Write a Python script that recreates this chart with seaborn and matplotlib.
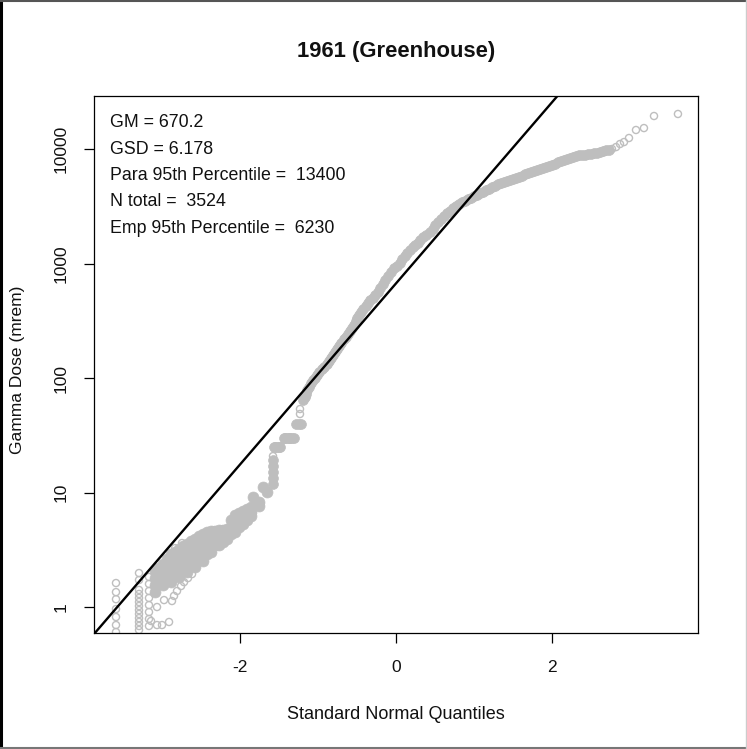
import numpy as np
import pandas as pd
import matplotlib
matplotlib.use("Agg")
import matplotlib.pyplot as plt
from matplotlib.lines import Line2D
import seaborn as sns

# ---------------- data ----------------
title = "1961 (Greenhouse)"
x_label = "Standard Normal Quantiles"
y_label = "Gamma Dose (mrem)"
GM = 670.2
GSD = 6.178
para_95 = 13400
n_total = 3524
emp_95 = 6230

x_ticks = [-2, 0, 2]
y_ticks = [1, 10, 100, 1000, 10000]
y_ticklabels = ["1", "10", "100", "1000", "10000"]

# lower-left wedge of the QQ curve (heavily overlapping points)
wedge_q = [
    -3.090, -3.090, -3.090, -3.090,
    -3.039, -3.039, -3.039,
    -2.987, -2.987, -2.987, -2.987,
    -2.936, -2.936, -2.936, -2.936,
    -2.885, -2.885, -2.885, -2.885, -2.885,
    -2.833, -2.833, -2.833, -2.833,
    -2.782, -2.782, -2.782, -2.782, -2.782,
    -2.731, -2.731, -2.731, -2.731,
    -2.679, -2.679, -2.679, -2.679, -2.679,
    -2.628, -2.628, -2.628, -2.628,
    -2.577, -2.577, -2.577, -2.577, -2.577,
    -2.526, -2.526, -2.526, -2.526,
    -2.474, -2.474, -2.474, -2.474, -2.474,
    -2.423, -2.423, -2.423, -2.423,
    -2.372, -2.372, -2.372, -2.372,
    -2.321, -2.321, -2.321,
    -2.269, -2.269, -2.269,
    -2.218, -2.218, -2.218,
    -2.167, -2.167, -2.167,
    -2.115, -2.115, -2.115,
    -2.064, -2.064, -2.064, -2.064,
    -2.013, -2.013, -2.013,
    -1.962, -1.962, -1.962,
    -1.910, -1.910, -1.910,
    -1.859, -1.859, -1.859,
    -1.833, -1.756, -1.756, -1.705, -1.654,
]
wedge_dose = [
    2.06, 1.79, 1.56, 1.35,
    2.20, 1.92, 1.67,
    2.37, 2.06, 1.79, 1.56,
    2.65, 2.30, 2.00, 1.73,
    2.90, 2.52, 2.19, 1.90, 1.65,
    3.05, 2.65, 2.30, 2.00,
    3.21, 2.79, 2.42, 2.10, 1.83,
    3.38, 2.93, 2.55, 2.22,
    3.55, 3.08, 2.68, 2.33, 2.02,
    3.74, 3.25, 2.82, 2.45,
    3.93, 3.41, 2.96, 2.57, 2.24,
    4.13, 3.58, 3.11, 2.70,
    4.34, 3.77, 3.28, 2.85, 2.52,
    4.48, 3.88, 3.38, 2.93,
    4.61, 4.01, 3.48, 3.02,
    4.65, 4.05, 3.50,
    4.70, 4.09, 3.48,
    4.75, 4.15, 3.70,
    4.80, 4.25, 3.93,
    5.80, 5.00, 4.30,
    6.36, 5.53, 4.90, 4.52,
    6.60, 5.75, 5.00,
    6.89, 5.99, 5.31,
    7.15, 6.40, 5.80,
    7.47, 6.76, 6.23,
    9.14, 8.26, 7.62, 11.2, 10.1,
]

# tied values and the main body of the curve
band_q = [
    -1.577, -1.577, -1.577, -1.577, -1.577,
    -1.564, -1.545, -1.526, -1.506, -1.487,
    -1.436, -1.417, -1.397, -1.378, -1.359, -1.333, -1.308,
    -1.282, -1.250, -1.218,
    -1.192, -1.173, -1.154, -1.135, -1.115, -1.090, -1.064, -1.038,
    -1.013, -0.981, -0.949, -0.917, -0.885, -0.859, -0.833, -0.808,
    -0.782, -0.756, -0.731, -0.699, -0.667, -0.641, -0.615, -0.590,
    -0.564, -0.538, -0.513, -0.494, -0.474, -0.449, -0.423, -0.391,
    -0.359, -0.327, -0.295, -0.263, -0.231, -0.199, -0.167, -0.135,
    -0.103, -0.065, -0.026, 0.013, 0.051, 0.083, 0.115, 0.147,
    0.179, 0.212, 0.244, 0.276, 0.308, 0.346, 0.385, 0.430,
    0.474, 0.506, 0.538, 0.577, 0.615, 0.654, 0.692, 0.731,
    0.769, 0.808, 0.846, 0.885, 0.923, 0.962, 1.000, 1.038,
    1.077, 1.115, 1.154, 1.192, 1.231, 1.269, 1.308, 1.346,
    1.385, 1.423, 1.462, 1.500, 1.538, 1.577, 1.615, 1.654,
    1.692, 1.731, 1.769, 1.808, 1.846, 1.885, 1.923, 1.962,
    2.000, 2.038, 2.077, 2.115, 2.154, 2.192, 2.231, 2.269,
    2.308, 2.346, 2.385, 2.423, 2.462, 2.500, 2.538, 2.577,
    2.615, 2.654, 2.692, 2.730,
]
band_dose = [
    11.9, 13.4, 15.1, 17.0, 19.2,
    25, 25, 25, 25, 25,
    30, 30, 30, 30, 30, 30, 30,
    40, 40, 40,
    64.3, 68, 72.5, 78, 83.5, 90, 96.1, 101,
    106, 113, 120, 126, 133, 141, 150, 159,
    169, 179, 190, 204, 219, 230, 242, 257,
    273, 293, 315, 335, 355, 378, 401, 426,
    452, 476, 500, 531, 564, 610, 662, 717,
    778, 843, 914, 960, 1010, 1085, 1164, 1237,
    1313, 1380, 1452, 1525, 1604, 1690, 1774, 1880,
    2000, 2150, 2302, 2450, 2600, 2735, 2875, 3025,
    3178, 3310, 3443, 3550, 3657, 3770, 3888, 4005,
    4130, 4255, 4386, 4520, 4659, 4800, 4948, 5050,
    5150, 5250, 5359, 5470, 5580, 5715, 5850, 6000,
    6150, 6290, 6430, 6560, 6690, 6830, 6966, 7110,
    7250, 7470, 7700, 7860, 8014, 8180, 8340, 8520,
    8690, 8780, 8870, 8955, 9040, 9135, 9230, 9320,
    9410, 9600, 9800, 9900,
]

# sparse points (open circles)
sparse_q = [
    -3.590, -3.590, -3.590, -3.590, -3.590, -3.590, -3.590,
    -3.295, -3.295, -3.295, -3.295, -3.295, -3.295, -3.295, -3.295,
    -3.295, -3.295, -3.295, -3.295, -3.295,
    -3.167, -3.167, -3.167, -3.167, -3.167, -3.167, -3.167, -3.167,
    -3.064, -3.000, -3.064, -3.141, -2.910, -2.974, -2.872, -2.846,
    -2.808, -2.756, -2.718, -2.667, -2.615, -2.833, -2.744,
    -1.577, -1.231, -1.231,
    2.769, 2.821, 2.872, 2.923, 2.987, 3.077, 3.179, 3.308, 3.615,
]
sparse_dose = [
    1.62, 1.35, 1.17, 0.96, 0.818, 0.696, 0.605,
    1.98, 1.72, 1.41, 1.30, 1.20, 1.106, 1.02, 0.94,
    0.869, 0.80, 0.74, 0.683, 0.63,
    1.83, 1.59, 1.38, 1.20, 1.04, 0.904, 0.786, 0.683,
    1.0, 0.696, 0.696, 0.755, 0.74, 1.15, 1.128, 1.25,
    1.38, 1.525, 1.65, 1.79, 1.94, 3.27, 3.62,
    20.8, 48.5, 53.6,
    10000, 10400, 11060, 11500, 12480, 14660, 15240, 19420, 20230,
]

wedge_df = pd.DataFrame({"q": wedge_q, "dose": wedge_dose})
band_df = pd.DataFrame({"q": band_q, "dose": band_dose})
sparse_df = pd.DataFrame({"q": sparse_q, "dose": sparse_dose})
ref_df = pd.DataFrame({"q": [-4.5, 4.5]})
ref_df["dose"] = GM * GSD ** ref_df["q"]

# ---------------- plot ----------------
sns.set_theme(style="ticks")
plt.rcParams["font.family"] = ["Liberation Sans", "DejaVu Sans"]

W, H = 747, 749
fig = plt.figure(figsize=(W / 100, H / 100), dpi=100)
fig.patch.set_facecolor("white")
ax = fig.add_axes([94 / W, 1 - 633 / H, 604 / W, 537 / H])
ax.set_facecolor("white")

grey = "#BEBEBE"
sns.scatterplot(data=wedge_df, x="q", y="dose", ax=ax, s=62, color=grey,
                edgecolor=grey, linewidth=0.5, marker="o", zorder=2)
sns.scatterplot(data=band_df, x="q", y="dose", ax=ax, s=50, color=grey,
                edgecolor=grey, linewidth=0.5, marker="o", zorder=2)
sns.scatterplot(data=sparse_df, x="q", y="dose", ax=ax, s=26, marker="o",
                facecolor="none", edgecolor=grey, linewidth=1.0, zorder=2)
sns.lineplot(data=ref_df, x="q", y="dose", ax=ax, color="black",
             linewidth=1.7, zorder=3)

ax.set_yscale("log")
ax.set_xlim(-3.872, 3.872)
ax.set_ylim(0.593, 29040)
ax.set_xticks(x_ticks)
ax.set_xticklabels([str(t) for t in x_ticks])
ax.set_yticks(y_ticks)
ax.set_yticklabels(y_ticklabels, rotation=90, va="center")
ax.yaxis.set_minor_locator(matplotlib.ticker.NullLocator())
ax.tick_params(axis="both", which="major", length=7.5, width=0.9,
               color="black", labelsize=12.5, labelcolor="#111111",
               direction="out")
ax.tick_params(axis="x", pad=12)
ax.tick_params(axis="y", pad=11)
for sp in ax.spines.values():
    sp.set_visible(True)
    sp.set_color("black")
    sp.set_linewidth(0.9)

ax.set_xlabel(x_label, fontsize=13, color="#111111")
ax.set_ylabel(y_label, fontsize=12.5, color="#111111")
ax.xaxis.set_label_coords(0.5, -0.136)
ax.yaxis.set_label_coords(-0.114, 0.49)

fig.text(0.530, 1 - 52 / H, title, ha="center", va="center",
         fontsize=15.8, fontweight="bold", color="#111111")

lines = [
    f"GM = {GM}",
    f"GSD = {GSD}",
    f"Para 95th Percentile =  {para_95}",
    f"N total =  {n_total}",
    f"Emp 95th Percentile =  {emp_95}",
]
ys = [0.950, 0.901, 0.852, 0.803, 0.754]
for t, yy in zip(lines, ys):
    ax.text(0.0265, yy, t, transform=ax.transAxes, ha="left", va="center",
            fontsize=12.8, color="#111111")

# outer frame of the figure
fig.add_artist(Line2D([1.5 / W, 1.5 / W], [0, 1], color="black", lw=2.2))
fig.add_artist(Line2D([0, 1], [1 - 1 / H, 1 - 1 / H], color="#555555", lw=1.5))
fig.add_artist(Line2D([0, 1], [1 - 747.5 / H, 1 - 747.5 / H], color="#777777", lw=1.5))
fig.add_artist(Line2D([745.5 / W, 745.5 / W], [0, 1], color="#CCCCCC", lw=1.0))

fig.savefig("out.png", dpi=100, facecolor="white")
